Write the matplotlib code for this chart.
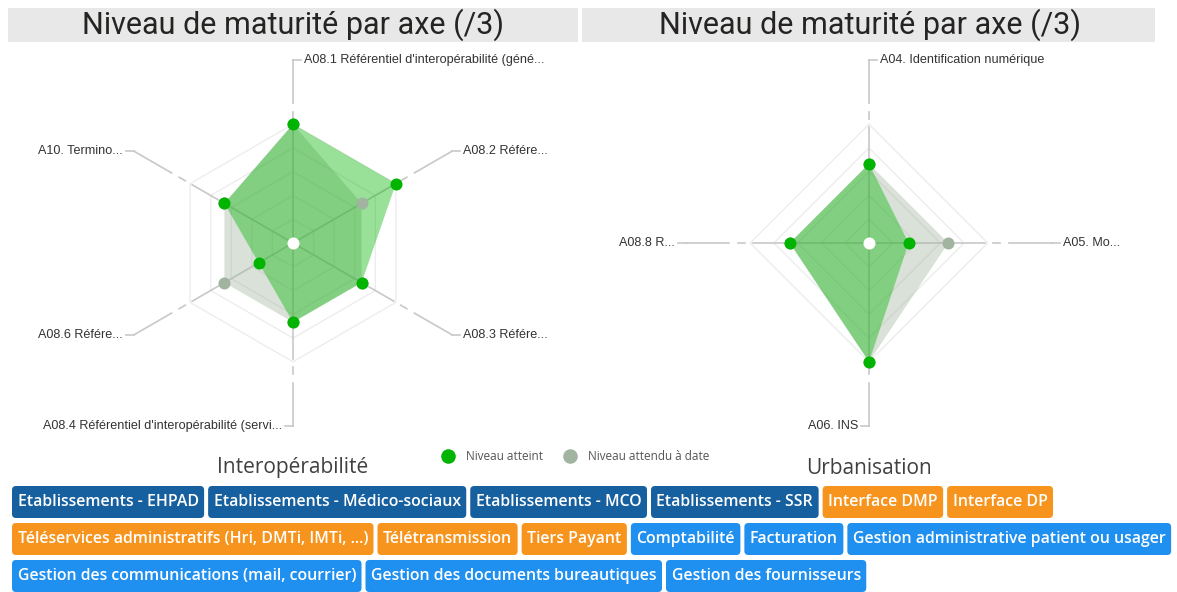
"""Maturity radar charts (interoperability / urbanisation) with the tag strip below."""

import matplotlib

matplotlib.use("Agg")
import matplotlib.pyplot as plt
import numpy as np
from matplotlib.patches import FancyBboxPatch, Rectangle

W, H = 1177, 592
DPI = 100
UNIT = 39.6  # pixels per maturity level

title_text = "Niveau de maturité par axe (/3)"

interop_labels = [
    "A08.1 Référentiel d'interopérabilité (géné...",
    "A08.2 Référe...",
    "A08.3 Référe...",
    "A08.4 Référentiel d'interopérabilité (servi...",
    "A08.6 Référe...",
    "A10. Termino...",
]
interop_atteint = [3, 3, 2, 2, 1, 2]
interop_attendu = [3, 2, 2, 2, 2, 2]

urba_labels = ["A04. Identification numérique", "A05. Mo...", "A06. INS", "A08.8 R..."]
urba_atteint = [2, 1, 3, 2]
urba_attendu = [2, 2, 3, 2]

legend_labels = ["Niveau atteint", "Niveau attendu à date"]

tag_rows = [
    ["Etablissements - EHPAD", "Etablissements - Médico-sociaux", "Etablissements - MCO",
     "Etablissements - SSR", "Interface DMP", "Interface DP"],
    ["Téléservices administratifs (Hri, DMTi, IMTi, ...)", "Télétransmission", "Tiers Payant",
     "Comptabilité", "Facturation", "Gestion administrative patient ou usager"],
    ["Gestion des communications (mail, courrier)", "Gestion des documents bureautiques",
     "Gestion des fournisseurs"],
]
tag_kinds = [
    ["etab", "etab", "etab", "etab", "interface", "interface"],
    ["interface", "interface", "interface", "gestion", "gestion", "gestion"],
    ["gestion", "gestion", "gestion"],
]
tag_colors = {"etab": "#17609f", "interface": "#f7941d", "gestion": "#1f8ff0"}

GREEN = "#00b400"
GREY = "#a0b4a0"


def draw_radar(fig, center, labels, atteint, attendu):
    cx, cy = center
    half = 210
    ax = fig.add_axes([(cx - half) / W, (H - cy - half) / H, 2 * half / W, 2 * half / H])
    lim = half / UNIT
    ax.set_xlim(-lim, lim)
    ax.set_ylim(-lim, lim)
    ax.axis("off")

    n = len(labels)
    angles = np.pi / 2 - 2 * np.pi * np.arange(n) / n
    cos, sin = np.cos(angles), np.sin(angles)

    for level in np.linspace(0.6, 3.0, 5):
        ax.plot(np.append(level * cos, level * cos[0]), np.append(level * sin, level * sin[0]),
                color="#ededed", lw=1, zorder=1)

    for c, s in zip(cos, sin):
        for r0, r1 in [(0, 2.94), (3.14, 3.32), (3.54, 4.63)]:
            ax.plot([r0 * c, r1 * c], [r0 * s, r1 * s], color="#c8c8c8", lw=1.2, zorder=1)

    expected = np.asarray(attendu, dtype=float)
    reached = np.asarray(atteint, dtype=float)
    ax.fill(expected * cos, expected * sin, color=GREY, alpha=0.4, lw=0, zorder=2)
    ax.fill(reached * cos, reached * sin, color=GREEN, alpha=0.4, lw=0, zorder=3)
    ax.scatter(expected * cos, expected * sin, s=75, color=GREY, lw=0, zorder=4)
    ax.scatter(reached * cos, reached * sin, s=75, color=GREEN, lw=0, zorder=5)
    ax.scatter([0], [0], s=75, color="white", lw=0, zorder=6)

    px = 1 / UNIT
    for c, s, label in zip(cos, sin, labels):
        ex, ey = 4.63 * c, 4.63 * s
        if abs(c) > 0.01:
            side = np.sign(c)
        else:
            side = 1 if s > 0 else -1
        ax.plot([ex, ex + side * 8 * px], [ey, ey], color="#c8c8c8", lw=1.2, zorder=1, clip_on=False)
        ax.text(ex + side * 11 * px, ey, label, ha="left" if side > 0 else "right", va="center",
                fontsize=9.1, color="#333333", family="Liberation Sans", clip_on=False)
    return ax


def main():
    fig = plt.figure(figsize=(W / DPI, H / DPI), dpi=DPI)
    bg = fig.add_axes([0, 0, 1, 1])
    bg.set_xlim(0, W)
    bg.set_ylim(H, 0)
    bg.axis("off")

    for x0, x1 in [(8, 578), (582, 1155)]:
        bg.add_patch(Rectangle((x0, 8), x1 - x0, 34, color="#e8e8e8", lw=0))
    for xc in (293, 870):
        bg.text(xc, 25, title_text, ha="center", va="center", fontsize=22,
                family="Roboto", color="#252423")

    draw_radar(fig, (293, 243), interop_labels, interop_atteint, interop_attendu)
    draw_radar(fig, (869, 243), urba_labels, urba_atteint, urba_attendu)

    for (xm, xt), color, label in zip([(448, 466), (570, 588)], [GREEN, GREY], legend_labels):
        bg.scatter([xm], [456], s=110, color=color, lw=0)
        bg.text(xt, 456, label, ha="left", va="center", fontsize=8.5, family="Open Sans", color="#555555")

    bg.text(293, 467, "Interopérabilité", ha="center", va="center", fontsize=15,
            family="Open Sans", color="#404040")
    bg.text(869, 469, "Urbanisation", ha="center", va="center", fontsize=15,
            family="Open Sans", color="#404040")

    renderer = fig.canvas.get_renderer()
    pad, gap, box_h = 5.5, 4, 32
    for top, labels, kinds in zip([486, 523, 560], tag_rows, tag_kinds):
        x = 12
        for label, kind in zip(labels, kinds):
            text = bg.text(x + pad, top + box_h / 2, label, ha="left", va="center", fontsize=11.45,
                           family="Open Sans", weight="semibold", color="white", zorder=3)
            width = text.get_window_extent(renderer=renderer).width + 2 * pad
            bg.add_patch(FancyBboxPatch((x, top), width, box_h, boxstyle="round,pad=0,rounding_size=4",
                                        color=tag_colors[kind], lw=0, zorder=2))
            x += width + gap

    fig.savefig("out.png", dpi=DPI)
    plt.close(fig)


if __name__ == "__main__":
    main()
